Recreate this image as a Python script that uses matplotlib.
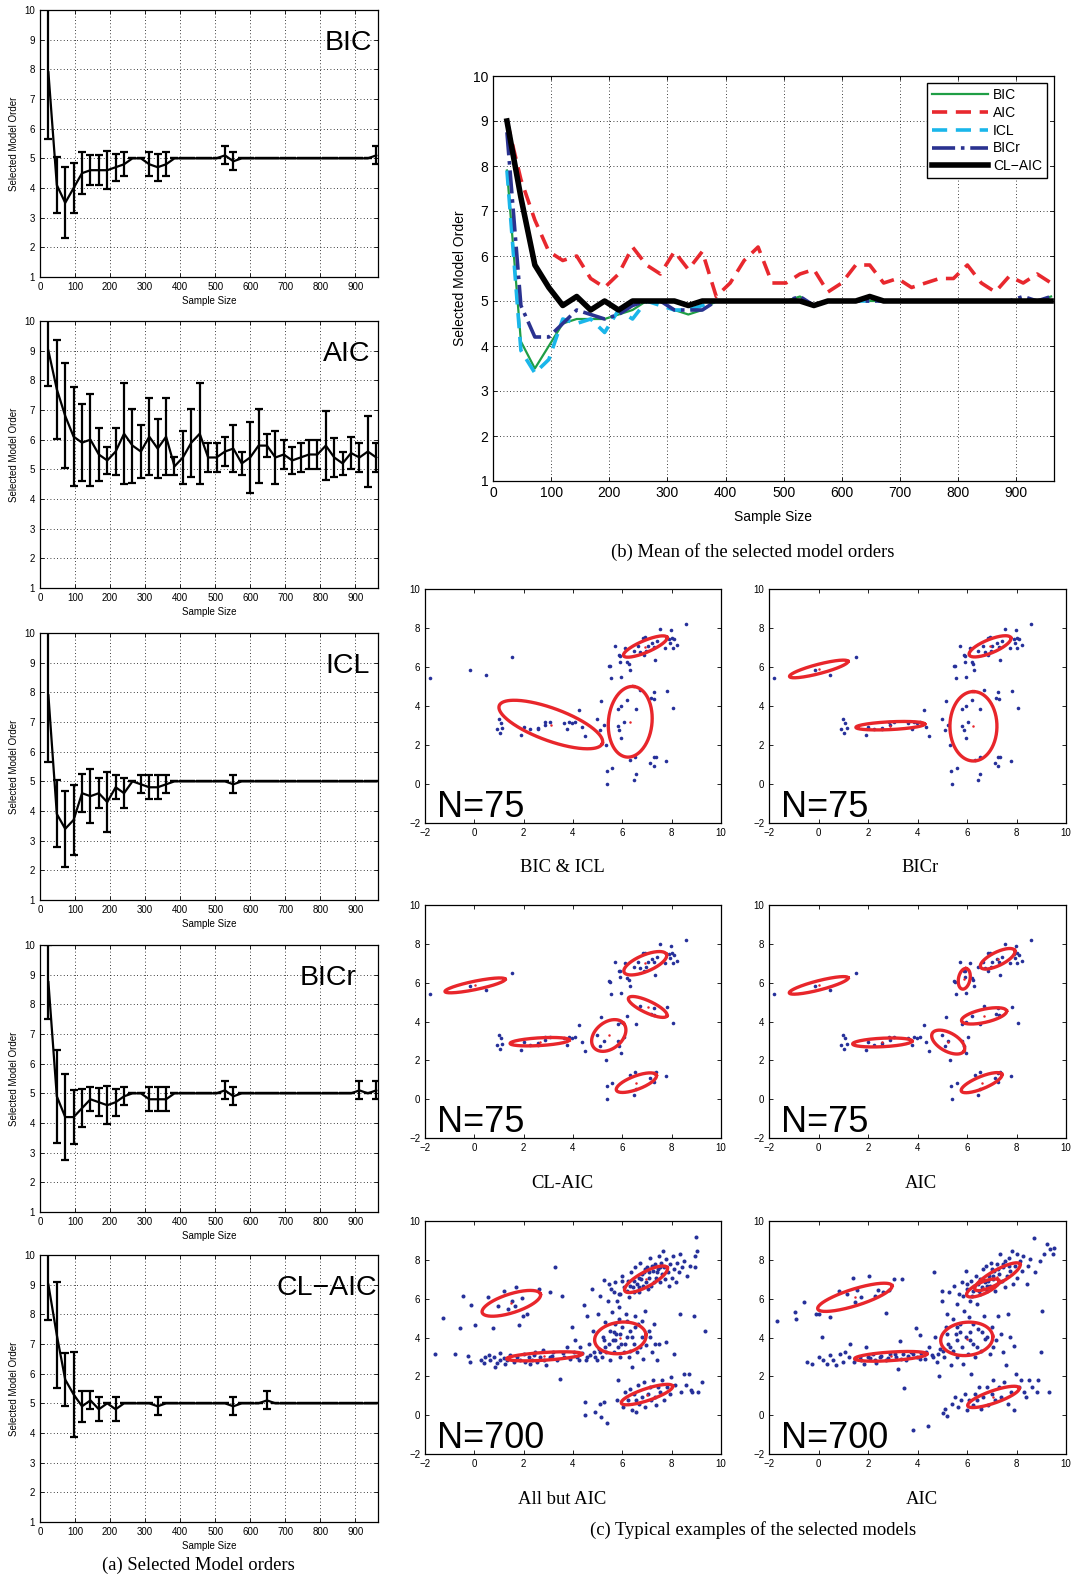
import numpy as np
import matplotlib.pyplot as plt

plt.rcParams['font.family'] = ['Liberation Sans', 'DejaVu Sans']

W, H = 1077, 1578

# sample sizes 24, 48, ..., 960
n_samples = [24 * k for k in range(1, 41)]

bic_mean = [7.9, 4.1, 3.5, 4.0, 4.5, 4.6, 4.6, 4.6, 4.7, 4.8, 5.0, 5.0, 4.8, 4.7, 4.8,
            5.0, 5.0, 5.0, 5.0, 5.0, 5.0, 5.1, 4.9] + [5.0] * 16 + [5.1]
bic_std = [2.25, 0.95, 1.2, 0.85, 0.7, 0.5, 0.5, 0.65, 0.45, 0.4, 0, 0, 0.4, 0.45, 0.4,
           0, 0, 0, 0, 0, 0, 0.3, 0.3] + [0] * 16 + [0.3]

aic_mean = [9.0, 7.7, 6.8, 6.1, 5.9, 6.0, 5.5, 5.3, 5.6, 6.2, 5.8, 5.6, 6.1, 5.7, 6.1,
            5.1, 5.4, 5.9, 6.2, 5.4, 5.4, 5.6, 5.7, 5.2, 5.4, 5.8, 5.8, 5.4, 5.5, 5.3,
            5.4, 5.5, 5.5, 5.8, 5.4, 5.2, 5.55, 5.4, 5.6, 5.4]
aic_std = [1.18, 1.67, 1.77, 1.67, 1.3, 1.55, 0.9, 0.45, 0.8, 1.7, 1.25, 0.9, 1.3, 1.0, 1.3,
           0.3, 0.9, 1.15, 1.7, 0.5, 0.5, 0.5, 0.8, 0.4, 1.2, 1.25, 0.4, 0.9, 0.5, 0.45,
           0.5, 0.5, 0.5, 1.15, 0.65, 0.4, 0.55, 0.5, 1.2, 0.5]

icl_mean = [7.9, 3.9, 3.4, 3.7, 4.6, 4.5, 4.6, 4.3, 4.8, 4.6, 5.0, 4.9, 4.8, 4.8, 4.9] \
    + [5.0] * 7 + [4.9] + [5.0] * 17
icl_std = [2.25, 1.13, 1.28, 1.18, 0.65, 0.92, 0.5, 1.0, 0.4, 0.5, 0, 0.3, 0.4, 0.4, 0.3] \
    + [0] * 7 + [0.3] + [0] * 17

bicr_mean = [8.75, 4.9, 4.2, 4.2, 4.5, 4.8, 4.7, 4.6, 4.7, 4.9, 5.0, 5.0, 4.8, 4.8, 4.8] \
    + [5.0] * 6 + [5.1, 4.9] + [5.0] * 14 + [5.1, 5.0, 5.1]
bicr_std = [1.25, 1.57, 1.45, 0.9, 0.65, 0.4, 0.48, 0.65, 0.45, 0.3, 0, 0, 0.4, 0.4, 0.4] \
    + [0] * 6 + [0.3, 0.3] + [0] * 14 + [0.3, 0, 0.3]

claic_mean = [9.0, 7.3, 5.8, 5.3, 4.9, 5.1, 4.8, 5.0, 4.8, 5.0, 5.0, 5.0, 5.0, 4.9] \
    + [5.0] * 8 + [4.9] + [5.0] * 3 + [5.1] + [5.0] * 13
claic_std = [1.18, 1.79, 0.88, 1.43, 0.53, 0.3, 0.4, 0, 0.4, 0, 0, 0, 0, 0.3] \
    + [0] * 8 + [0.3] + [0] * 3 + [0.3] + [0] * 13

criteria = ['BIC', 'AIC', 'ICL', 'BICr', 'CL\u2212AIC']
means = [bic_mean, aic_mean, icl_mean, bicr_mean, claic_mean]
stds = [bic_std, aic_std, icl_std, bicr_std, claic_std]

# N=75 data set (same in the four upper panels)
pts_n75 = [(-1.78, 5.42), (-0.16, 5.85), (0.47, 5.61), (1.53, 6.49), (1.01, 3.32), (1.09, 3.14),
           (0.92, 2.80), (1.05, 2.59), (1.14, 2.85), (1.91, 2.51), (2.0, 2.93), (2.24, 2.81),
           (2.57, 2.88), (2.57, 2.81), (2.85, 3.19), (2.88, 3.05), (3.05, 3.19), (3.62, 3.15),
           (3.76, 2.81), (3.85, 3.19), (3.96, 3.15), (4.09, 3.19), (4.26, 3.80), (4.36, 2.93),
           (4.47, 2.47), (4.97, 3.32), (5.11, 2.76), (5.15, 4.24), (5.24, 3.02), (5.32, 2.0),
           (5.36, 0.69), (5.39, 0.0), (5.59, 0.81), (5.46, 6.07), (5.50, 6.03), (5.55, 5.42),
           (5.72, 7.08), (5.81, 3.86), (5.81, 2.98), (5.86, 2.76), (5.88, 6.61), (5.92, 6.58),
           (5.92, 6.27), (5.95, 5.47), (5.96, 4.0), (5.96, 2.37), (6.05, 3.19), (6.12, 7.0),
           (6.19, 6.24), (6.19, 4.29), (6.26, 6.15), (6.30, 5.85), (6.32, 1.24), (6.46, 0.22),
           (6.53, 1.41), (6.54, 0.51), (6.54, 3.86), (6.46, 6.83), (6.64, 7.08), (6.70, 4.80),
           (6.73, 6.78), (6.84, 7.51), (6.86, 6.61), (6.93, 7.54), (6.97, 6.83), (7.03, 7.08),
           (7.14, 1.07), (7.16, 4.41), (7.20, 7.22), (7.27, 1.36), (7.27, 0.90), (7.27, 4.71),
           (7.30, 4.34), (7.30, 7.05), (7.32, 6.37), (7.35, 1.41), (7.41, 7.34), (7.54, 7.97),
           (7.74, 7.0), (7.78, 1.19), (7.81, 4.75), (7.88, 7.46), (7.95, 7.25), (7.99, 7.90),
           (8.01, 7.51), (8.04, 7.0), (8.05, 3.92), (8.11, 7.42), (8.22, 7.12), (8.58, 8.19)]

# N=700 data set, "All but AIC" panel
pts_n700_a = [(-1.61, 3.13), (-1.28, 4.99), (-0.77, 3.16), (-0.59, 4.5), (-0.46, 6.15), (-0.27, 3.03),
              (-0.16, 2.74), (-0.14, 5.69), (0.04, 4.62), (0.28, 2.85), (0.38, 2.70), (0.55, 6.10),
              (0.58, 3.11), (0.65, 2.82), (0.76, 4.48), (0.81, 2.99), (0.85, 2.48), (0.95, 5.61),
              (1.03, 3.20), (1.05, 2.82), (1.19, 6.41), (1.22, 2.96), (1.26, 2.65), (1.36, 5.47),
              (1.46, 3.08), (1.53, 5.90), (1.59, 2.74), (1.66, 5.64), (1.70, 6.62), (1.80, 4.62),
              (1.84, 2.82), (1.93, 6.03), (1.97, 5.13), (2.0, 3.16), (2.14, 5.21), (2.20, 2.99),
              (2.24, 2.65), (2.34, 2.85), (2.47, 3.25), (2.54, 2.74), (2.61, 6.50), (2.68, 2.99),
              (2.78, 3.37), (2.92, 2.56), (3.05, 2.99), (3.08, 6.32), (3.19, 3.25), (3.28, 7.61),
              (3.35, 2.85), (3.55, 6.15), (3.49, 1.88), (3.59, 3.20), (3.76, 3.50), (3.89, 2.91),
              (3.96, 4.56), (4.03, 3.25), (4.09, 3.85), (4.16, 2.99), (4.30, 3.50), (4.36, 3.20),
              (4.43, 5.69), (4.47, 0.68), (4.47, 0.0), (4.54, 2.82), (4.57, 5.13), (4.64, 3.68),
              (4.70, 3.08), (4.77, 6.50), (4.81, 4.36), (4.84, 3.25), (4.88, 0.17), (4.97, 2.82),
              (5.0, 5.21), (5.04, 3.42), (5.08, 0.60), (5.11, 6.15), (5.15, -0.09), (5.18, 2.99),
              (5.22, 4.02), (5.24, 0.68), (5.27, 6.96), (5.31, 4.79), (5.35, 3.25), (5.38, -0.39),
              (5.41, 5.90), (5.45, 3.68), (5.49, 4.36), (5.51, 2.85), (5.55, 6.50), (5.58, 5.30),
              (5.62, 3.85), (5.65, 3.25), (5.69, 4.70), (5.72, 6.84), (5.76, 4.19), (5.78, 0.77),
              (5.81, 1.79), (5.82, 3.50), (5.85, 6.24), (5.88, 5.56), (5.92, 2.99), (5.95, 3.68),
              (5.97, 7.18), (5.99, 4.53), (6.03, 0.43), (6.05, 6.58), (6.08, 3.25), (6.12, 1.20),
              (6.15, 5.21), (6.19, 4.02), (6.22, 6.92), (6.23, 0.77), (6.26, 6.07), (6.27, 2.99),
              (6.30, 1.37), (6.32, 4.36), (6.35, 7.35), (6.38, 2.48), (6.39, 0.26), (6.43, 6.58),
              (6.46, 3.68), (6.49, 1.08), (6.50, 5.13), (6.53, 7.61), (6.54, 0.77), (6.55, 0.14),
              (6.58, 6.75), (6.59, 3.25), (6.62, 1.54), (6.65, 4.70), (6.68, 6.32), (6.69, 0.60),
              (6.73, 7.86), (6.76, 7.01), (6.78, 4.02), (6.80, 0.94), (6.82, 6.67), (6.84, 2.91),
              (6.86, 7.35), (6.89, 1.71), (6.92, 0.43), (6.93, 5.38), (6.96, 6.84), (6.97, 3.59),
              (7.0, 7.61), (7.03, 1.11), (7.04, 6.50), (7.07, 4.36), (7.09, 7.09), (7.11, 1.45),
              (7.14, 8.12), (7.16, 0.77), (7.18, 6.67), (7.20, 3.25), (7.23, 7.44), (7.24, 1.79),
              (7.27, 6.84), (7.30, 4.70), (7.31, 0.94), (7.34, 7.78), (7.36, 0.51), (7.38, 7.09),
              (7.41, 2.82), (7.43, 1.45), (7.46, 7.52), (7.47, 8.21), (7.49, 3.68), (7.51, 6.84),
              (7.54, 1.20), (7.57, 7.86), (7.59, 7.26), (7.62, 1.79), (7.65, 8.46), (7.68, 7.61),
              (7.70, 0.77), (7.73, 7.01), (7.76, 3.76), (7.78, 8.03), (7.81, 1.45), (7.85, 7.35),
              (7.88, 6.67), (7.92, 7.78), (7.95, 1.11), (7.97, 1.97), (8.01, 7.09), (8.05, 8.21),
              (8.08, 3.16), (8.11, 7.52), (8.15, 1.54), (8.19, 6.84), (8.22, 7.86), (8.28, 7.35),
              (8.32, 5.21), (8.35, 8.29), (8.39, 1.20), (8.42, 7.61), (8.49, 2.14), (8.51, 7.95),
              (8.59, 1.54), (8.62, 7.18), (8.69, 2.14), (8.76, 7.69), (8.78, 1.28), (8.82, 1.20),
              (8.89, 5.13), (8.93, 8.21), (8.96, 7.61), (9.0, 9.18), (9.03, 8.46), (9.07, 1.20),
              (9.23, 1.71), (9.36, 4.36),
              (0.45, 2.99), (0.92, 2.68), (1.32, 2.82), (1.73, 2.99), (2.07, 2.74), (2.41, 3.08),
              (2.81, 2.82), (3.15, 3.03), (3.62, 2.99), (4.23, 2.82), (4.57, 2.99), (4.91, 2.99),
              (5.11, 3.25), (5.31, 3.50), (5.72, 3.85), (5.92, 4.19), (6.12, 3.68), (6.39, 4.02),
              (6.53, 4.53), (6.73, 3.50), (6.32, 3.33), (5.65, 4.27), (5.24, 3.85), (5.85, 4.96),
              (6.19, 4.87), (6.80, 4.87), (7.14, 4.02), (7.34, 3.68),
              (6.19, 6.41), (6.32, 6.67), (6.46, 6.92), (6.66, 7.09), (6.80, 7.26), (6.93, 7.52),
              (7.07, 7.35), (7.20, 7.69), (7.41, 7.35), (7.54, 7.61), (6.46, 6.32), (6.66, 6.58),
              (5.92, 6.24), (5.78, 5.90), (5.99, 6.92), (5.65, 6.32), (5.45, 6.75)]

# N=700 data set, "AIC" panel
pts_n700_b = [(-1.69, 4.87), (-0.93, 5.30), (-0.91, 4.96), (-0.59, 5.81), (-0.46, 2.74), (-0.26, 2.65),
              (-0.09, 5.21), (0.01, 2.99), (0.04, 5.21), (0.15, 4.05), (0.2, 2.85), (0.34, 2.65),
              (0.45, 5.04), (0.47, 3.08), (0.58, 2.82), (0.69, 2.56), (0.82, 6.41), (0.85, 3.16),
              (0.99, 2.74), (1.09, 3.25), (1.15, 6.24), (1.23, 2.99), (1.26, 3.64), (1.39, 7.04),
              (1.42, 2.74), (1.46, 5.81), (1.55, 6.44), (1.66, 2.99), (1.73, 6.07), (1.82, 2.65),
              (1.91, 3.50), (2.04, 7.18), (2.09, 2.96), (2.20, 3.16), (2.27, 6.15), (2.34, 2.68),
              (2.41, 6.44), (2.50, 2.99), (2.61, 6.32), (2.72, 5.25), (2.74, 2.82), (2.85, 6.44),
              (2.88, 3.13), (3.04, 7.01), (3.15, 2.99), (3.22, 2.39), (3.28, 3.81), (3.39, 7.01),
              (3.42, 3.13), (3.45, 1.40), (3.55, 2.82), (3.72, 3.25), (3.82, -0.77), (3.93, 4.50),
              (3.96, 2.99), (4.09, 4.15), (4.16, 3.20), (4.30, 2.91), (4.43, -0.55), (4.47, 3.50),
              (4.57, 3.08), (4.66, 7.35), (4.70, 4.02), (4.77, 2.74), (4.85, 2.0), (4.91, 3.42),
              (4.97, 6.41), (5.01, 5.90), (5.04, 0.09), (5.08, 2.99), (5.11, 0.34), (5.15, 4.53),
              (5.18, 5.21), (5.20, -0.05), (5.24, 3.68), (5.28, 6.32), (5.34, 2.56), (5.38, 0.60),
              (5.42, 4.96), (5.45, 3.33), (5.47, 6.67), (5.51, 0.94), (5.55, 4.19), (5.58, 5.73),
              (5.61, 2.99), (5.65, 0.43), (5.69, 6.24), (5.72, 4.70), (5.74, 0.77), (5.78, 3.50),
              (5.81, 6.84), (5.85, 2.65), (5.88, 5.38), (5.92, 1.11), (5.95, 4.02), (5.97, 7.44),
              (5.99, 0.26), (6.01, 6.50), (6.04, 3.16), (6.07, 5.04), (6.09, 0.77), (6.12, 4.27),
              (6.15, 6.92), (6.18, 2.14), (6.20, 6.15), (6.23, 0.51), (6.26, 3.68), (6.28, 6.67),
              (6.31, 1.11), (6.34, 2.99), (6.36, 7.18), (6.39, 5.73), (6.42, 0.77), (6.45, 4.44),
              (6.47, 6.41), (6.50, 1.45), (6.53, 7.01), (6.55, 3.33), (6.58, 0.34), (6.61, 6.58),
              (6.64, 7.52), (6.66, 0.94), (6.69, 5.13), (6.72, 6.84), (6.74, 3.93), (6.77, 7.69),
              (6.80, 1.45), (6.82, 6.41), (6.85, 0.51), (6.88, 7.18), (6.91, 3.16), (6.93, 6.67),
              (6.96, 7.86), (6.99, 1.11), (7.01, 4.53), (7.04, 7.01), (7.07, 1.79), (7.09, 7.44),
              (7.12, 6.41), (7.15, 0.77), (7.18, 3.85), (7.20, 7.78), (7.23, 6.75), (7.26, 5.13),
              (7.28, 1.45), (7.31, 7.26), (7.34, 8.29), (7.36, 4.19), (7.39, 0.94), (7.42, 6.92),
              (7.45, 7.61), (7.47, 3.25), (7.50, 1.71), (7.53, 6.58), (7.55, 7.95), (7.58, 2.56),
              (7.61, 7.18), (7.64, 0.60), (7.66, 5.21), (7.69, 8.12), (7.72, 4.02), (7.74, 7.44),
              (7.77, 1.20), (7.81, 8.46), (7.85, 6.75), (7.88, 3.54), (7.91, 0.26), (7.93, 7.69),
              (7.99, 2.14), (8.01, 8.29), (8.04, 7.06), (8.09, 1.45), (8.15, 7.95), (8.19, 1.79),
              (8.23, 7.44), (8.28, 8.21), (8.32, 1.20), (8.38, 0.94), (8.42, 6.75), (8.45, 7.69),
              (8.50, 1.79), (8.55, 8.03), (8.62, 1.45), (8.69, 9.15), (8.73, 7.35), (8.82, 1.20),
              (8.86, 1.79), (8.93, 7.95), (8.99, 3.25), (9.05, 5.38), (9.12, 8.29), (9.23, 8.80),
              (9.30, 1.20), (9.36, 8.55), (9.47, 8.29), (9.53, 8.63),
              (1.46, 2.91), (1.73, 2.85), (2.0, 2.99), (2.27, 2.85), (2.54, 3.03), (2.81, 2.96),
              (3.08, 3.13), (3.35, 2.91), (3.62, 3.03), (3.82, 3.13), (4.09, 2.91), (4.36, 3.25),
              (4.64, 2.99), (4.84, 3.16), (5.04, 3.33), (5.31, 3.50), (5.58, 3.85), (5.72, 4.27),
              (6.12, 3.85), (6.39, 3.50), (6.59, 4.27), (5.58, 4.53), (6.26, 4.70), (6.80, 4.02),
              (5.18, 4.19), (7.07, 3.50),
              (6.26, 6.41), (6.46, 6.75), (6.66, 7.01), (6.86, 6.92), (7.07, 7.18), (7.27, 7.52),
              (7.47, 7.78), (7.68, 7.69), (6.80, 6.67), (6.53, 6.24), (6.12, 5.90), (5.85, 6.15),
              (5.99, 6.75), (7.0, 7.52)]

# fitted components: centre (cx, cy) and two conjugate semi-axes (ux, uy), (vx, vy)
ell_bic_icl = [(6.93, 7.05, 0.88, 0.47, 0.09, -0.28),
               (3.10, 3.05, 2.09, -0.97, -0.23, -0.78),
               (6.32, 3.19, 0.135, 1.81, 0.88, -0.10)]
ell_bicr = [(6.93, 7.06, 0.84, 0.44, 0.10, -0.32),
            (0.01, 5.90, 1.18, 0.39, 0.05, -0.23),
            (2.90, 2.99, 1.39, 0.085, 0.0, 0.20),
            (6.26, 2.96, 0.0, 1.78, 0.95, 0.0)]
ell_claic = [(6.93, 7.00, 0.86, 0.46, 0.13, -0.39),
             (0.03, 5.86, 1.22, 0.32, 0.04, -0.21),
             (2.65, 2.96, 1.20, 0.085, 0.02, 0.20),
             (5.45, 3.28, 0.60, 0.63, 0.35, -0.52),
             (7.03, 4.75, 0.78, -0.46, -0.10, -0.28),
             (6.57, 0.85, 0.81, 0.39, 0.10, -0.32)]
ell_aic75 = [(0.01, 5.86, 1.19, 0.39, 0.05, -0.23),
             (2.58, 2.92, 1.20, 0.07, 0.02, 0.22),
             (5.89, 6.20, 0.08, 0.53, 0.23, -0.05),
             (7.24, 7.23, 0.69, 0.43, 0.12, -0.31),
             (6.69, 4.29, 0.91, 0.26, 0.06, -0.33),
             (5.24, 2.94, 0.64, -0.46, -0.19, -0.41),
             (6.59, 0.85, 0.82, 0.43, 0.09, -0.29)]
ell_allbut = [(1.50, 5.76, 1.18, 0.48, 0.12, -0.46),
              (2.84, 3.03, 1.53, 0.12, 0.01, 0.20),
              (6.96, 7.00, 0.86, 0.60, 0.14, -0.33),
              (5.92, 3.98, 1.04, 0.17, 0.08, -0.80),
              (7.00, 1.06, 1.04, 0.44, 0.08, -0.29)]
ell_aic700 = [(1.47, 6.07, 1.50, 0.60, 0.10, -0.41),
              (2.92, 3.03, 1.46, 0.12, 0.0, 0.22),
              (7.23, 7.13, 0.91, 0.65, 0.13, -0.30),
              (6.64, 6.55, 0.65, 0.38, 0.10, -0.27),
              (5.99, 3.93, 1.05, 0.14, 0.07, -0.85),
              (7.07, 0.94, 1.04, 0.46, 0.08, -0.30)]

fig = plt.figure(figsize=(W / 100, H / 100), dpi=100)


def px_axes(left, top, right, bottom):
    return fig.add_axes([left / W, 1 - bottom / H, (right - left) / W, (bottom - top) / H])


def matlab_style(ax, fs):
    ax.tick_params(direction='in', top=True, right=True, labelsize=fs, length=3, width=0.6)
    for s in ax.spines.values():
        s.set_linewidth(0.9)


grid_kw = dict(color='k', linestyle=(0, (1, 3)), linewidth=0.6)
serif = 'Liberation Serif'

# (a) one panel per criterion
a_tops = [10, 321, 633, 945, 1255]
label_x = [0.983, 0.977, 0.975, 0.936, 0.997]
for top, name, mean, std, lx in zip(a_tops, criteria, means, stds, label_x):
    ax = px_axes(40, top, 378, top + 267)
    ax.errorbar(n_samples, mean, yerr=std, color='k', lw=1.6, elinewidth=1.6,
                capsize=3.2, capthick=1.6)
    ax.set_xlim(0, 965)
    ax.set_ylim(1, 10)
    ax.set_xticks(range(0, 1000, 100))
    ax.set_yticks(range(1, 11))
    ax.grid(True, **grid_kw)
    matlab_style(ax, 7)
    ax.set_xlabel('Sample Size', fontsize=7, labelpad=0)
    ax.set_ylabel('Selected Model Order', fontsize=7)
    ax.yaxis.set_label_coords(-0.063, 0.5)
    ax.xaxis.set_label_coords(0.5, -0.07)
    ax.text(lx, 0.85, name, transform=ax.transAxes, ha='right', va='baseline', fontsize=20.5)

# (b) means of all criteria
axb = px_axes(493, 76, 1054, 481)
styles = [dict(color='#1f9e45', lw=1.6, ls='-'),
          dict(color='#e8282e', lw=2.6, ls=(0, (4.2, 2.4))),
          dict(color='#1ab6ea', lw=2.6, ls=(0, (4.2, 2.4))),
          dict(color='#2a3290', lw=2.6, ls='-.'),
          dict(color='k', lw=4.0, ls='-')]
for name, mean, st in zip(criteria, means, styles):
    axb.plot(n_samples, mean, label=name, **st)
axb.set_xlim(0, 965)
axb.set_ylim(1, 10)
axb.set_xticks(range(0, 1000, 100))
axb.set_yticks(range(1, 11))
axb.grid(True, **grid_kw)
matlab_style(axb, 10)
axb.set_xlabel('Sample Size', fontsize=10)
axb.set_ylabel('Selected Model Order', fontsize=10)
axb.yaxis.set_label_coords(-0.046, 0.5)
axb.xaxis.set_label_coords(0.5, -0.072)
leg = axb.legend(loc='upper right', fontsize=10, handlelength=4, fancybox=False,
                 framealpha=1, edgecolor='k', borderpad=0.35, labelspacing=0.28,
                 handletextpad=0.4, borderaxespad=0.5)
leg.get_frame().set_linewidth(1.0)

# (c) scatter examples
scatter_panels = [
    ((425, 589, 721, 823), pts_n75, ell_bic_icl, 'N=75', 'BIC & ICL', 562, 868),
    ((769, 589, 1066, 823), pts_n75, ell_bicr, 'N=75', 'BICr', 920, 868),
    ((425, 905, 721, 1138), pts_n75, ell_claic, 'N=75', 'CL-AIC', 562, 1183),
    ((769, 905, 1066, 1138), pts_n75, ell_aic75, 'N=75', 'AIC', 921, 1183),
    ((425, 1221, 721, 1454), pts_n700_a, ell_allbut, 'N=700', 'All but AIC', 562, 1500),
    ((769, 1221, 1066, 1454), pts_n700_b, ell_aic700, 'N=700', 'AIC', 922, 1500),
]
t = np.linspace(0, 2 * np.pi, 240)
for box, pts, ells, ntext, cap, cap_x, cap_y in scatter_panels:
    ax = px_axes(*box)
    px, py = zip(*pts)
    ms = 2.9 if len(pts) > 100 else 2.6
    ax.plot(px, py, 'o', color='#26309a', ms=ms, mew=0)
    for cx, cy, ux, uy, vx, vy in ells:
        ax.plot(cx + ux * np.cos(t) + vx * np.sin(t), cy + uy * np.cos(t) + vy * np.sin(t),
                color='#e8262b', lw=2.4)
        ax.plot(cx, cy, 'o', color='#e8262b', ms=1.8, mew=0)
    ax.set_xlim(-2, 10)
    ax.set_ylim(-2, 10)
    ax.set_xticks(range(-2, 11, 2))
    ax.set_yticks(range(-2, 11, 2))
    matlab_style(ax, 7)
    ax.text(0.04, 0.024, ntext, transform=ax.transAxes, fontsize=26, va='baseline', ha='left')
    fig.text(cap_x / W, 1 - cap_y / H, cap, ha='center', va='center',
             fontsize=13.4, family=serif)

fig.text(753 / W, 1 - 552 / H, '(b) Mean of the selected model orders', ha='center',
         va='center', fontsize=13.4, family=serif)
fig.text(753 / W, 1 - 1530 / H, '(c) Typical examples of the selected models', ha='center',
         va='center', fontsize=13.4, family=serif)
fig.text(198 / W, 1 - 1565 / H, '(a) Selected Model orders', ha='center', va='center',
         fontsize=13.4, family=serif)

fig.savefig('out.png', dpi=100)
